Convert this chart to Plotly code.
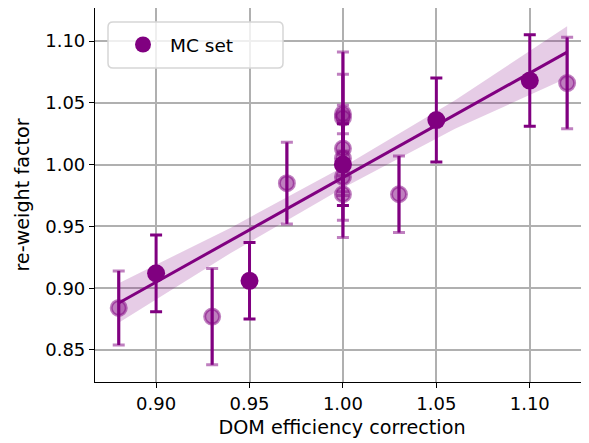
import plotly.graph_objects as go

# DOM efficiency correction vs re-weight factor
main_dom = [0.90, 0.95, 1.00, 1.05, 1.10]
main_factor = [0.912, 0.906, 1.000, 1.036, 1.068]
main_err = [0.031, 0.031, 0.033, 0.034, 0.037]

other_dom = [0.88, 0.93, 0.97, 1.00, 1.00, 1.00, 1.00, 1.00, 1.00, 1.03, 1.12]
other_factor = [0.884, 0.877, 0.985, 1.041, 1.038, 1.013, 1.005, 0.990, 0.976, 0.976, 1.066]
other_err = [0.030, 0.039, 0.033, 0.050, 0.035, 0.035, 0.030, 0.035, 0.035, 0.031, 0.037]

fit_x = [0.88, 1.12]
fit_y = [0.888, 1.091]

band_x = [0.88, 0.94, 1.00, 1.06, 1.12]
band_lo = [0.872, 0.9285, 0.981, 1.029, 1.070]
band_hi = [0.904, 0.949, 0.998, 1.052, 1.112]

purple = "#800080"
faded = "rgba(128,0,128,0.5)"
font = "DejaVu Sans"

# the page body has an 8px margin, so the figure is sized for what stays visible
W, H = 581, 435
L, R, T, B = 87, 0, 0, 61
pw, ph = W - L - R, H - T - B

fig = go.Figure()

# confidence band
fig.add_scatter(x=band_x, y=band_hi, mode="lines", line_width=0,
                showlegend=False, hoverinfo="skip")
fig.add_scatter(x=band_x, y=band_lo, mode="lines", line_width=0,
                fill="tonexty", fillcolor="rgba(128,0,128,0.2)",
                showlegend=False, hoverinfo="skip")

# faded caps (drawn first, the solid stems go on top)
fig.add_scatter(
  x=other_dom, y=other_factor, mode="markers",
  marker=dict(size=1, color="rgba(0,0,0,0)"),
  error_y=dict(type="data", array=other_err, color=faded, thickness=3, width=6),
  showlegend=False,
)
# fit line
fig.add_scatter(x=fit_x, y=fit_y, mode="lines", line=dict(color=purple, width=3),
                showlegend=False)
# faded points with solid stems
fig.add_scatter(
  x=other_dom, y=other_factor, mode="markers",
  marker=dict(size=15, color=faded, line=dict(color=faded, width=3)),
  error_y=dict(type="data", array=other_err, color=purple, thickness=3, width=0),
  showlegend=False,
)
# main MC set
fig.add_scatter(
  x=main_dom, y=main_factor, mode="markers", name="MC set",
  marker=dict(size=18, color=purple),
  error_y=dict(type="data", array=main_err, color=purple, thickness=3, width=6),
)

# rounded legend frame, in paper coordinates
bx0, bx1 = 13 / pw, 188 / pw
by1, by0 = 1 - 14 / ph, 1 - 60 / ph
rx, ry = 5 / pw, 5 / ph
frame = (
  f"M {bx0 + rx},{by1} L {bx1 - rx},{by1} Q {bx1},{by1} {bx1},{by1 - ry} "
  f"L {bx1},{by0 + ry} Q {bx1},{by0} {bx1 - rx},{by0} "
  f"L {bx0 + rx},{by0} Q {bx0},{by0} {bx0},{by0 + ry} "
  f"L {bx0},{by1 - ry} Q {bx0},{by1} {bx0 + rx},{by1} Z"
)
fig.add_shape(type="path", path=frame, xref="paper", yref="paper",
              fillcolor="rgba(255,255,255,0.8)", line=dict(color="#d6d6d6", width=1.5),
              layer="above")

axis_style = dict(
  showgrid=True, gridcolor="#b0b0b0", gridwidth=2,
  showline=True, linecolor="black", linewidth=1.2,
  ticks="outside", ticklen=5, tickwidth=1.2, tickcolor="black",
  zeroline=False, tickfont=dict(size=18, color="black"), automargin=False,
)

fig.update_layout(
  width=W, height=H,
  margin=dict(l=L, r=R, t=T, b=B),
  plot_bgcolor="white", paper_bgcolor="white",
  font=dict(family=font, size=18, color="black"),
  showlegend=True,
  legend=dict(
    x=21 / pw, y=1 - 37 / ph, xanchor="left", yanchor="middle",
    bgcolor="rgba(0,0,0,0)", borderwidth=0,
    font=dict(size=18.5), itemwidth=44,
  ),
)
fig.update_xaxes(
  range=[0.8673, 1.1317], tickvals=[0.90, 0.95, 1.00, 1.05, 1.10], tickformat=".2f",
  mirror=True, title=dict(text="DOM efficiency correction", font=dict(size=19.2), standoff=7),
  **axis_style,
)
fig.update_yaxes(
  range=[0.8241, 1.1267], tickvals=[0.85, 0.90, 0.95, 1.00, 1.05, 1.10], tickformat=".2f",
  title=dict(text="re-weight factor", font=dict(size=19.2), standoff=10),
  **axis_style,
)

fig.write_html("out.html")
